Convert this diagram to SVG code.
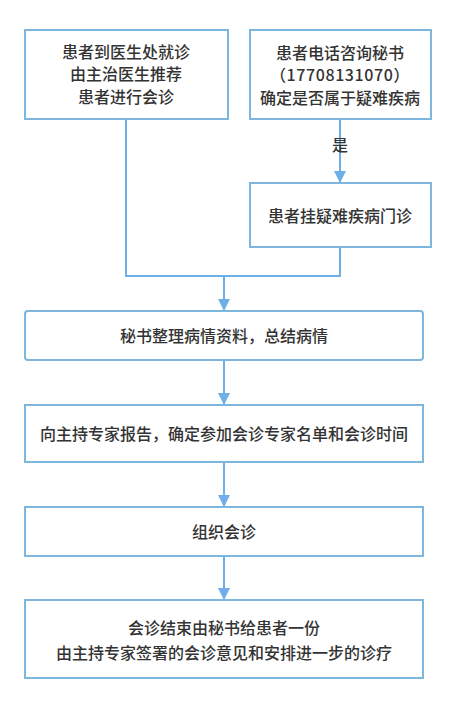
<svg xmlns="http://www.w3.org/2000/svg" width="456" height="703" viewBox="0 0 456 703">
<style>
.box{fill:#fff;stroke:#7DB6DE;stroke-width:2}
.ln{fill:none;stroke:#6DAFE6;stroke-width:2}
text{font-family:"Noto Sans CJK SC","Noto Sans",sans-serif;font-size:16px;font-weight:500;fill:#333;text-anchor:middle}
</style>
<defs>
<marker id="ah" markerWidth="12" markerHeight="12" viewBox="0 0 12 12" refX="11" refY="6" orient="auto" markerUnits="userSpaceOnUse">
<path d="M0,0 L12,6 L0,12 z" fill="#6DAFE6"/>
</marker>
</defs>
<rect width="456" height="703" fill="#fff"/>
<g id="connectors">
<path class="ln" d="M340,119 V182" marker-end="url(#ah)"/>
<path class="ln" d="M126,119 V276 H340 V247"/>
<path class="ln" d="M224,276 V310" marker-end="url(#ah)"/>
<path class="ln" d="M224,360 V404" marker-end="url(#ah)"/>
<path class="ln" d="M224,462 V506" marker-end="url(#ah)"/>
<path class="ln" d="M224,556 V599" marker-end="url(#ah)"/>
<text x="340" y="151">是</text>
</g>
<g id="n1">
<rect class="box" x="25" y="30" width="203" height="89"/>
<text x="126" y="58">患者到医生处就诊</text>
<text x="126" y="80">由主治医生推荐</text>
<text x="126" y="103">患者进行会诊</text>
</g>
<g id="n2">
<rect class="box" x="250" y="30" width="181" height="89"/>
<text x="340" y="59">患者电话咨询秘书</text>
<text x="340" y="81" letter-spacing="0.6">（17708131070）</text>
<text x="340" y="104">确定是否属于疑难疾病</text>
</g>
<g id="n3">
<rect class="box" x="250" y="183" width="181" height="64"/>
<text x="340" y="222">患者挂疑难疾病门诊</text>
</g>
<g id="n4">
<rect class="box" x="25" y="311" width="398" height="49" rx="3"/>
<text x="224" y="342">秘书整理病情资料，总结病情</text>
</g>
<g id="n5">
<rect class="box" x="25" y="405" width="398" height="57"/>
<text x="224" y="440">向主持专家报告，确定参加会诊专家名单和会诊时间</text>
</g>
<g id="n6">
<rect class="box" x="25" y="507" width="398" height="49"/>
<text x="224" y="538">组织会诊</text>
</g>
<g id="n7">
<rect class="box" x="25" y="600" width="398" height="78"/>
<text x="224" y="634">会诊结束由秘书给患者一份</text>
<text x="224" y="659">由主持专家签署的会诊意见和安排进一步的诊疗</text>
</g>
</svg>
